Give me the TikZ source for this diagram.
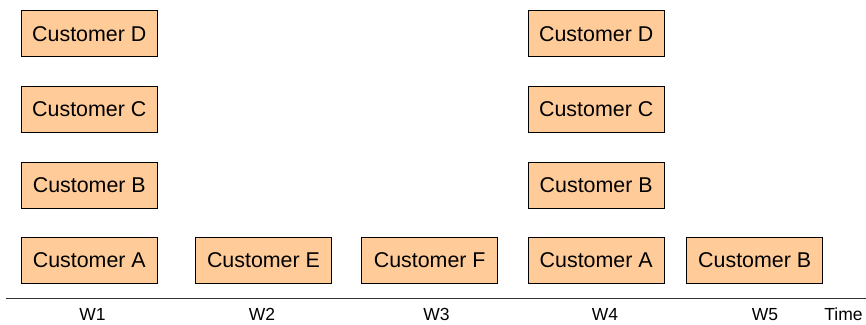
\documentclass[tikz,border=0pt]{standalone}
\usepackage{fontspec}
\setmainfont{Liberation Sans}
\definecolor{peach}{HTML}{FFCC99}
\definecolor{axisgray}{HTML}{333333}
\tikzset{
  cust/.style={draw=black, fill=peach, line width=0.9pt, minimum width=136pt,
    minimum height=46pt, inner sep=0pt, font=\fontsize{21.4}{24}\selectfont},
  week/.style={font=\fontsize{17.5}{20}\selectfont, inner sep=0pt, anchor=base}
}
\begin{document}
\begin{tikzpicture}[x=1pt, y=-1pt]
    \useasboundingbox (0, 0) rectangle (866, 324);
    \node[cust] (w1d) at (89.3, 33.7)  {Customer D};
    \node[cust] (w1c) at (89.3, 109)   {Customer C};
    \node[cust] (w1b) at (89.3, 185)   {Customer B};
    \node[cust] (w1a) at (89.3, 260.3) {Customer A};
    \node[cust] (w2e) at (263.5, 260.3) {Customer E};
    \node[cust] (w3f) at (429.7, 260.3) {Customer F};
    \node[cust] (w4d) at (596.2, 33.7)  {Customer D};
    \node[cust] (w4c) at (596.2, 109)   {Customer C};
    \node[cust] (w4b) at (596.2, 185)   {Customer B};
    \node[cust] (w4a) at (596.2, 260.3) {Customer A};
    \node[cust] (w5b) at (754.7, 260.3) {Customer B};
    \draw[axisgray, line width=1.2pt] (6, 298.3) coordinate (tstart) -- (866, 298.3) coordinate (tend);
    \node[week] (lw1) at (92.5, 320)  {W1};
    \node[week] (lw2) at (262, 320)   {W2};
    \node[week] (lw3) at (436.5, 320) {W3};
    \node[week] (lw4) at (605, 320)   {W4};
    \node[week] (lw5) at (765, 320)   {W5};
    \node[week] (ltime) at (843.5, 320) {Time};
  \end{tikzpicture}
\end{document}
